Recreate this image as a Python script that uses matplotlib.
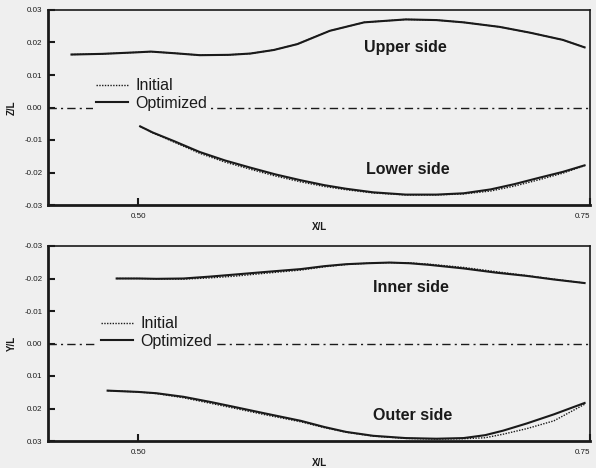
import matplotlib
matplotlib.use("Agg")
import matplotlib.pyplot as plt

plt.rcParams['font.family'] = ['Liberation Sans', 'DejaVu Sans']

# ---------------- data ----------------
upper_x = [0.463, 0.48, 0.50, 0.507, 0.52, 0.534, 0.55, 0.562, 0.575, 0.588, 0.606, 0.625,
           0.648, 0.665, 0.680, 0.700, 0.717, 0.735, 0.747]
upper_opt = [0.0163, 0.0165, 0.0170, 0.0172, 0.0167, 0.0161, 0.0162, 0.0166, 0.0177, 0.0195,
             0.0236, 0.0262, 0.0271, 0.0269, 0.0262, 0.0248, 0.0230, 0.0208, 0.0185]
upper_init = [0.0163, 0.0165, 0.0170, 0.0172, 0.0167, 0.0161, 0.0162, 0.0166, 0.0177, 0.0195,
              0.0236, 0.0262, 0.0271, 0.0269, 0.0262, 0.0248, 0.0230, 0.0208, 0.0185]

lower_x = [0.501, 0.508, 0.52, 0.534, 0.548, 0.562, 0.576, 0.590, 0.603, 0.615, 0.630,
           0.648, 0.665, 0.680, 0.695, 0.708, 0.722, 0.735, 0.747]
lower_opt = [-0.0058, -0.0077, -0.0104, -0.0137, -0.0163, -0.0185, -0.0206, -0.0224, -0.0239,
             -0.0250, -0.0261, -0.0268, -0.0268, -0.0264, -0.0252, -0.0236, -0.0216, -0.0198, -0.0178]
lower_init = [-0.0058, -0.0078, -0.0107, -0.0141, -0.0168, -0.0190, -0.0211, -0.0229, -0.0243,
              -0.0253, -0.0263, -0.0269, -0.0269, -0.0266, -0.0257, -0.0242, -0.0222, -0.0202, -0.0179]

inner_x = [0.488, 0.50, 0.51, 0.525, 0.54, 0.553, 0.570, 0.590, 0.603, 0.615, 0.627, 0.639,
           0.650, 0.661, 0.680, 0.698, 0.715, 0.730, 0.747]
inner_opt = [-0.0200, -0.0200, -0.0199, -0.0200, -0.0206, -0.0212, -0.0220, -0.0229, -0.0238,
             -0.0244, -0.0247, -0.0249, -0.0247, -0.0242, -0.0231, -0.0218, -0.0208, -0.0197, -0.0186]
inner_init = [-0.0200, -0.0200, -0.0199, -0.0198, -0.0202, -0.0207, -0.0216, -0.0226, -0.0236,
              -0.0243, -0.0247, -0.0249, -0.0248, -0.0244, -0.0234, -0.0221, -0.0209, -0.0198, -0.0186]

outer_x = [0.483, 0.50, 0.51, 0.525, 0.540, 0.553, 0.570, 0.590, 0.603, 0.615, 0.630, 0.648,
           0.665, 0.680, 0.692, 0.702, 0.715, 0.730, 0.747]
outer_opt = [0.0145, 0.0149, 0.0153, 0.0164, 0.0180, 0.0195, 0.0215, 0.0238, 0.0257, 0.0272,
             0.0284, 0.0291, 0.0293, 0.0291, 0.0282, 0.0268, 0.0246, 0.0218, 0.0183]
outer_init = [0.0145, 0.0149, 0.0154, 0.0167, 0.0184, 0.0199, 0.0219, 0.0241, 0.0259, 0.0273,
              0.0285, 0.0292, 0.0294, 0.0293, 0.0290, 0.0279, 0.0262, 0.0238, 0.0187]

y_ticks = [-0.03, -0.02, -0.01, 0.00, 0.01, 0.02, 0.03]
y_ticklabels = ['-0.03', '-0.02', '-0.01', '0.00', '0.01', '0.02', '0.03']
x_ticks = [0.50, 0.75]
x_ticklabels = ['0.50', '0.75']

bg = '#efefef'
ink = '#1a1a1a'

fig = plt.figure(figsize=(5.96, 4.68), dpi=100, facecolor=bg)
W, H = 596, 468


def mk_axes(top_px, bot_px):
    return fig.add_axes([48 / W, 1 - bot_px / H, (590 - 48) / W, (bot_px - top_px) / H])


def style(ax, ylabel, pairs, invert, leg_anchor):
    ax.set_facecolor(bg)
    ax.set_xlim(0.45, 0.75)
    ax.set_ylim(-0.03, 0.03)
    if invert:
        ax.invert_yaxis()
    ax.set_yticks(y_ticks)
    ax.set_yticklabels(y_ticklabels)
    ax.set_xticks(x_ticks)
    ax.set_xticklabels(x_ticklabels)
    ax.tick_params(direction='in', length=5, width=1.5, labelsize=5.8, colors=ink, pad=4)
    ax.tick_params(axis='x', pad=6)
    ax.get_xticklabels()[-1].set_ha('right')
    for s in ['left', 'bottom']:
        ax.spines[s].set_linewidth(2.0)
    for s in ['top', 'right']:
        ax.spines[s].set_linewidth(1.2)
    for s in ax.spines.values():
        s.set_color(ink)
    ax.set_xlabel('X/L', fontsize=7, fontweight='bold', color=ink)
    ax.xaxis.label.set_va('center')
    ax.xaxis.set_label_coords(0.5, -0.113)
    ax.set_ylabel(ylabel, fontsize=7, fontweight='bold', color=ink)
    ax.yaxis.label.set_va('center')
    ax.yaxis.set_label_coords(-0.066, 0.5)
    ax.axhline(0.0, color=ink, lw=1.0, ls=(0, (6, 3, 1.5, 3)), zorder=1)
    for (x, init, opt) in pairs:
        ax.plot(x, init, color=ink, lw=1.0, ls=(0, (1, 1)), label='Initial', zorder=3)
        ax.plot(x, opt, color=ink, lw=1.5, ls='-', label='Optimized', zorder=4)
    h, l = ax.get_legend_handles_labels()
    leg = ax.legend(h[:2], l[:2], loc='upper left', bbox_to_anchor=leg_anchor,
                    fontsize=11.5, frameon=True, facecolor=bg, edgecolor='none', framealpha=1,
                    handlelength=2.0, handletextpad=0.44, labelspacing=0.15, borderpad=0.2,
                    borderaxespad=0)
    for t in leg.get_texts():
        t.set_color(ink)


ax1 = mk_axes(10, 205)
style(ax1, 'Z/L', [(upper_x, upper_init, upper_opt), (lower_x, lower_init, lower_opt)], False,
      (0.083, 0.667))
ax1.text(0.648, 0.0186, 'Upper side', ha='center', va='center', fontsize=11.5, fontweight='bold', color=ink)
ax1.text(0.649, -0.0191, 'Lower side', ha='center', va='center', fontsize=11.5, fontweight='bold', color=ink)

ax2 = mk_axes(246, 441)
style(ax2, 'Y/L', [(inner_x, inner_init, inner_opt), (outer_x, outer_init, outer_opt)], True,
      (0.092, 0.656))
ax2.text(0.651, -0.0171, 'Inner side', ha='center', va='center', fontsize=11.5, fontweight='bold', color=ink)
ax2.text(0.652, 0.0221, 'Outer side', ha='center', va='center', fontsize=11.5, fontweight='bold', color=ink)

fig.savefig('out.png', dpi=100, facecolor=bg)
